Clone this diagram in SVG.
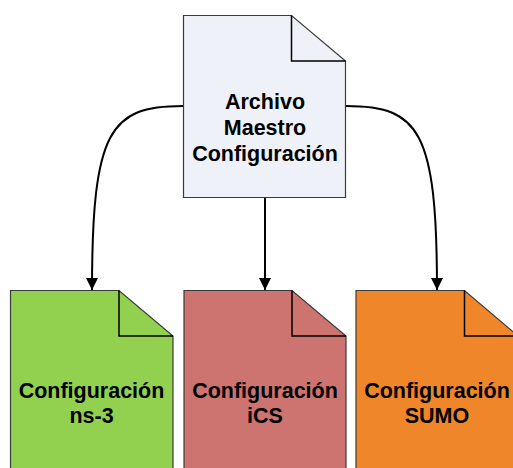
<svg xmlns="http://www.w3.org/2000/svg" width="513" height="468" viewBox="0 0 513 468">
<style>
.doc{stroke:#3a3a3a;stroke-width:1.2}
.fold{fill:none;stroke:#000;stroke-width:1.5}
.lbl{font-family:"Liberation Sans",Arial,sans-serif;font-weight:bold;font-size:21.5px;fill:#000;text-anchor:middle}
.conn{fill:none;stroke:#000;stroke-width:2}
</style>
<defs>
<marker id="arr" markerWidth="12" markerHeight="12" refX="12" refY="6" orient="auto" markerUnits="userSpaceOnUse">
<path d="M0,0 L12,6 L0,12 Z" fill="#000"/>
</marker>
</defs>
<g id="connectors">
<path class="conn" d="M183,106 C110,106 92,130 92,290" marker-end="url(#arr)"/>
<path class="conn" d="M265,198 L265,290" marker-end="url(#arr)"/>
<path class="conn" d="M346,106 C419,106 437,130 437,290" marker-end="url(#arr)"/>
</g>
<g id="master">
<path class="doc" fill="#EEF1F7" d="M183.5,15.5 H291.5 L345.5,61 V197.5 H183.5 Z"/>
<path class="fold" d="M291.5,15.5 V61 H345.5"/>
<text class="lbl" x="265" y="109">Archivo</text>
<text class="lbl" x="265" y="135">Maestro</text>
<text class="lbl" x="265" y="161">Configuración</text>
</g>
<g id="ns3">
<path class="doc" fill="#92D050" d="M10.5,290.5 H119 L173,336 V475 H10.5 Z"/>
<path class="fold" d="M119,290.5 V336 H173"/>
<text class="lbl" x="91.5" y="398">Configuración</text>
<text class="lbl" x="91.5" y="423">ns-3</text>
</g>
<g id="ics">
<path class="doc" fill="#CD7370" d="M184,290.5 H292 L346,336 V475 H184 Z"/>
<path class="fold" d="M292,290.5 V336 H346"/>
<text class="lbl" x="265" y="398">Configuración</text>
<text class="lbl" x="265" y="423">iCS</text>
</g>
<g id="sumo">
<path class="doc" fill="#F0862A" d="M356,290.5 H464.5 L518,336 V475 H356 Z"/>
<path class="fold" d="M464.5,290.5 V336 H518"/>
<text class="lbl" x="437" y="398">Configuración</text>
<text class="lbl" x="437" y="423">SUMO</text>
</g>
</svg>
